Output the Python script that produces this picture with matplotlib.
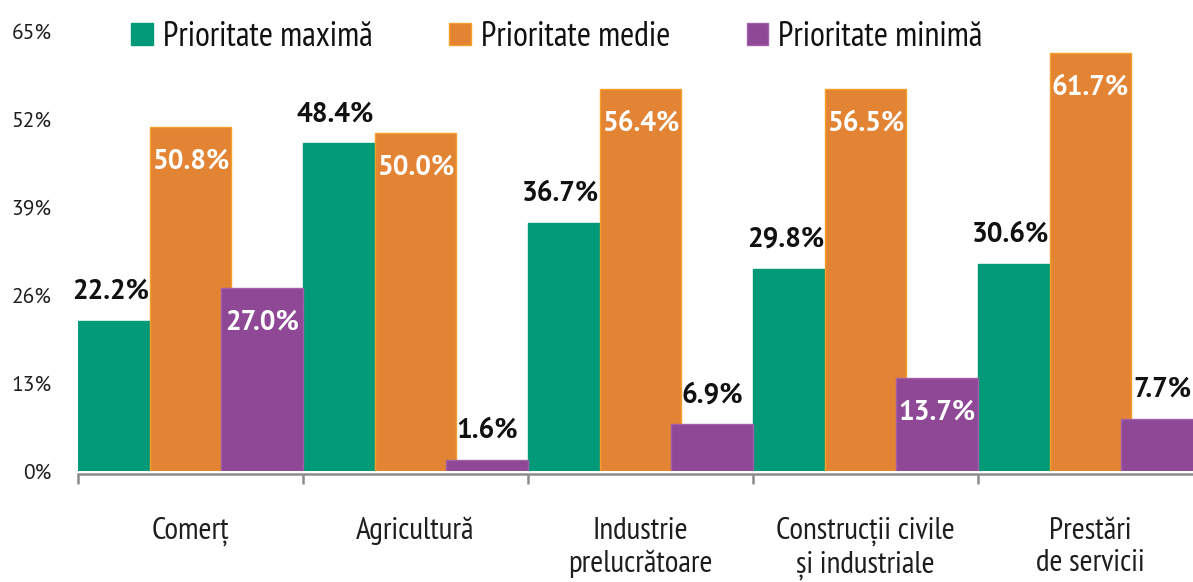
import matplotlib
matplotlib.use("Agg")
import matplotlib.pyplot as plt
import numpy as np

NARROW = ['PT Sans Narrow', 'Roboto Condensed', 'DejaVu Sans']
WIDE = ['PT Sans', 'PT Sans Narrow', 'DejaVu Sans']
plt.rcParams['font.family'] = NARROW

categories = ["Comerț", "Agricultură", "Industrie\nprelucrătoare",
              "Construcții civile\nși industriale", "Prestări\nde servicii"]
series_names = ["Prioritate maximă", "Prioritate medie", "Prioritate minimă"]
prio_max = [22.2, 48.4, 36.7, 29.8, 30.6]
prio_medie = [50.8, 50.0, 56.4, 56.5, 61.7]
prio_min = [27.0, 1.6, 6.9, 13.7, 7.7]
y_ticks = [0, 13, 26, 39, 52, 65]

series = [prio_max, prio_medie, prio_min]
colors = ['#009A78', '#E28433', '#8E4895']
edges = ['#009A78', '#F5A02A', '#A060AA']
label_mode = ['outside', 'inside', 'auto']
label_dx = [-6, 0, 0]

fig = plt.figure(figsize=(11.93, 5.82), dpi=100)
ax = fig.add_axes([78/1193, 111/582, 1125/1193, 440/582])

x = np.arange(len(categories))
step = 0.318
width = 0.364
for k, (vals, col, ec, mode, dx, name) in enumerate(zip(series, colors, edges, label_mode,
                                                         label_dx, series_names)):
    left = x - 0.5 + k * step
    bars = ax.bar(left, vals, width=width, align='edge', color=col, edgecolor=ec,
                  linewidth=1.0, zorder=2 + k, label=name)
    for b, v in zip(bars, vals):
        cx = b.get_x() + b.get_width() / 2
        inside = mode == 'inside' or (mode == 'auto' and v >= 10)
        if inside:
            ax.annotate(f"{v:.1f}%", (cx, v), xytext=(dx, -25), textcoords='offset points',
                        ha='center', va='center', color='white', fontsize=20,
                        fontweight='bold', family=WIDE, zorder=10)
        else:
            ax.annotate(f"{v:.1f}%", (cx, v), xytext=(dx, 21), textcoords='offset points',
                        ha='center', va='center', color='#111111', fontsize=20,
                        fontweight='bold', family=WIDE, zorder=10)

ax.set_xlim(-0.5, len(categories) - 0.5)
ax.set_ylim(0, 65)
ax.set_yticks(y_ticks)
ax.set_yticklabels([f"{t}%" for t in y_ticks], family=WIDE)
ax.tick_params(axis='y', length=0, pad=19, labelsize=15.5, labelcolor='#1E1E1E')

ax.set_xticks(np.arange(-0.5, len(categories)), minor=False)
ax.set_xticklabels([])
ax.set_xticks(x, minor=True)
ax.tick_params(axis='x', which='major', length=7, width=1.8, color='#8C8C8C')
ax.tick_params(axis='x', which='minor', length=0, pad=31, labelsize=22.5, labelcolor='#1E1E1E')
ax.set_xticklabels(categories, minor=True, linespacing=1.5)

for s in ['top', 'right', 'left']:
    ax.spines[s].set_visible(False)
ax.spines['bottom'].set_color('#8C8C8C')
ax.spines['bottom'].set_linewidth(1.8)
ax.spines['bottom'].set_position(('outward', 2))

leg = fig.legend(loc='center', bbox_to_anchor=(557/1193, 1 - 37/582), ncol=3, frameon=False,
                 fontsize=24.5, handlelength=0.63, handleheight=0.63, handletextpad=0.3,
                 columnspacing=2.25, borderpad=0)
for t in leg.get_texts():
    t.set_color('#111111')

fig.savefig("out.png", dpi=100)
